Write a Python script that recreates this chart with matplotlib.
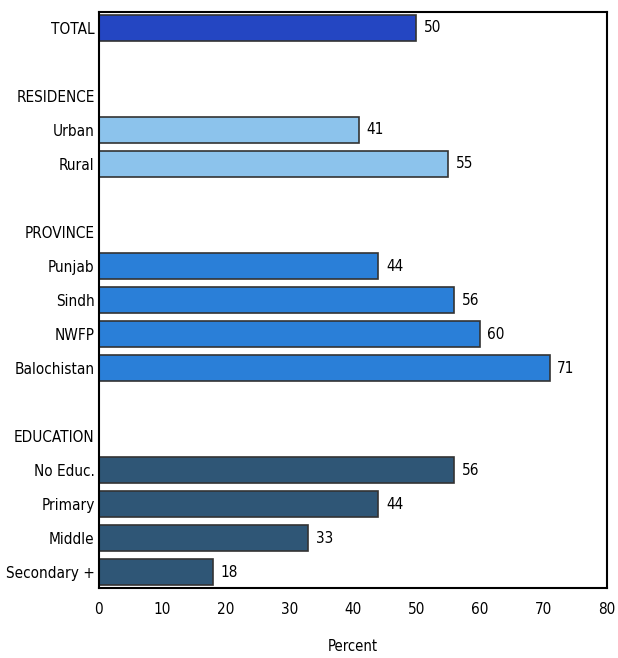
import matplotlib
import matplotlib.pyplot as plt

matplotlib.use('Agg')

plt.rcParams['font.family'] = ['DejaVu Sans']
plt.rcParams['font.stretch'] = 'condensed'

# 数据
labels = ['TOTAL', 'RESIDENCE', 'Urban', 'Rural', 'PROVINCE', 'Punjab', 'Sindh', 'NWFP',
          'Balochistan', 'EDUCATION', 'No Educ.', 'Primary', 'Middle', 'Secondary +']
values = [50, None, 41, 55, None, 44, 56, 60, 71, None, 56, 44, 33, 18]
groups = ['total', 'head', 'res', 'res', 'head', 'prov', 'prov', 'prov', 'prov',
          'head', 'edu', 'edu', 'edu', 'edu']
rows = [0, 2, 3, 4, 6, 7, 8, 9, 10, 12, 13, 14, 15, 16]
x_ticks = [0, 10, 20, 30, 40, 50, 60, 70, 80]

colors = {'total': '#2446c2', 'res': '#8cc3ec', 'prov': '#2a7fd8', 'edu': '#2f5676'}

fig = plt.figure(figsize=(6.18, 6.58), dpi=100)
ax = fig.add_axes([0.160, 0.106, 0.822, 0.876])

for lab, val, grp, r in zip(labels, values, groups, rows):
    if val is None:
        continue
    ax.barh(r, val, height=0.76, color=colors[grp], edgecolor='#333333', linewidth=1.2)
    ax.text(val + 1.2, r, str(val), va='center', ha='left', fontsize=11)

ax.set_xlim(0, 80)
ax.set_ylim(16.47, -0.47)
ax.set_yticks(rows)
ax.set_yticklabels(labels, fontsize=11)
ax.tick_params(axis='y', length=0, pad=3)
ax.set_xticks(x_ticks)
ax.set_xticklabels([str(t) for t in x_ticks], fontsize=11)
ax.tick_params(axis='x', length=0, pad=10)
ax.set_xlabel('Percent', fontsize=10.5, labelpad=16)

for s in ax.spines.values():
    s.set_linewidth(1.5)
    s.set_color('black')

plt.savefig('out.png', dpi=100)
